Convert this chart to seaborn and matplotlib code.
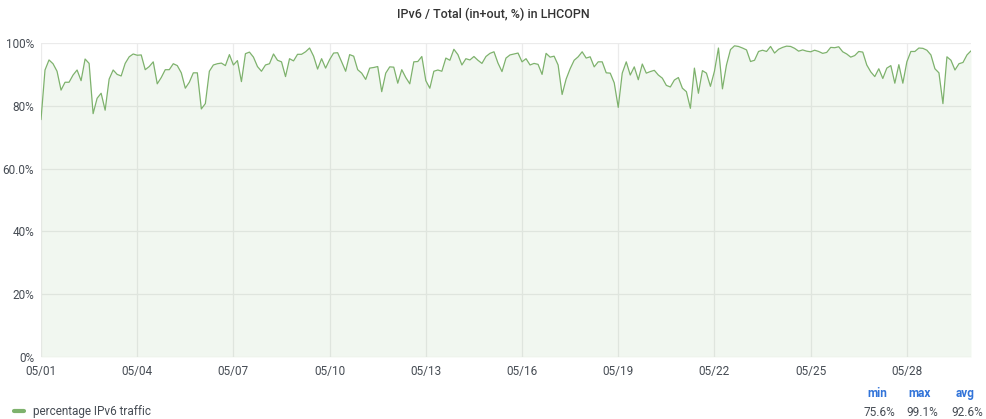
import numpy as np
import pandas as pd
import seaborn as sns
import matplotlib.pyplot as plt
import matplotlib.dates as mdates

# IPv6 share of LHCOPN traffic, one sample every 3 hours starting 05/01 00:00
start_time = '2023-05-01 00:00'
step = '3h'
ipv6_pct = [
    75.6, 91.4, 94.6, 93.4, 91.0, 85.0, 87.5, 87.5, 89.8, 91.4,
    88.0, 94.9, 93.5, 77.5, 82.4, 84.0, 78.6, 88.5, 91.4, 90.0,
    89.5, 93.5, 95.6, 96.5, 96.1, 96.2, 91.5, 92.5, 94.0, 87.0,
    89.0, 91.5, 91.5, 93.4, 92.8, 90.5, 85.6, 87.5, 90.5, 90.5,
    79.0, 80.7, 91.0, 93.0, 93.4, 93.6, 92.8, 96.3, 93.0, 94.4,
    87.7, 96.6, 97.1, 95.5, 92.5, 91.0, 93.0, 93.4, 96.5, 94.5,
    94.0, 89.3, 95.0, 94.3, 96.4, 96.4, 97.2, 98.4, 95.8, 91.7,
    95.0, 92.0, 94.7, 96.8, 96.9, 94.0, 91.0, 96.3, 95.8,
    91.5, 90.4, 88.4, 92.0, 92.2, 92.5, 84.5, 90.4, 92.4, 92.3,
    87.2, 91.5, 89.0, 87.0, 94.0, 94.1, 95.7, 88.0, 85.6, 91.0,
    91.4, 91.0, 95.2, 94.5, 98.0, 96.3, 93.0, 95.0, 94.6, 95.7,
    94.5, 93.5, 95.7, 96.7, 97.2, 93.6, 90.9, 95.2, 96.2,
    96.5, 96.8, 94.0, 95.0, 93.0, 93.5, 93.2, 90.0, 96.7, 95.5,
    95.8, 93.0, 83.6, 88.5, 91.8, 94.5, 95.6, 97.2, 95.2, 95.6,
    92.4, 94.0, 94.0, 90.5, 90.4, 87.3, 79.5, 90.4, 94.0, 89.8,
    92.4, 88.3, 93.3, 90.4, 90.9, 91.3, 89.8, 88.8, 86.5,
    86.0, 88.2, 89.0, 85.6, 84.5, 79.2, 92.0, 84.0, 91.2, 90.4,
    86.2, 91.0, 98.4, 85.4, 93.0, 97.9, 99.1, 98.9, 98.4, 97.8,
    94.1, 94.5, 97.3, 97.7, 97.3, 98.9, 96.8, 98.0, 98.6, 99.0,
    98.9, 98.3, 97.4, 97.8, 97.4, 97.2, 97.7, 97.3, 96.7,
    97.0, 98.6, 98.5, 98.8, 97.2, 96.5, 95.5, 96.0, 97.3, 97.1,
    93.0, 90.8, 89.3, 91.8, 88.7, 92.0, 92.8, 87.2, 93.1, 87.2,
    94.0, 97.3, 97.3, 98.4, 98.3, 97.7, 96.2, 91.8, 90.5, 80.7,
    95.6, 94.5, 91.4, 93.4, 93.8, 96.2, 97.5,
]
series_name = 'percentage IPv6 traffic'
y_ticks = [0, 20, 40, 60, 80, 100]
y_tick_labels = ['0%', '20%', '40%', '60.0%', '80%', '100%']
stat_names = ['min', 'max', 'avg']
stat_values = ['75.6%', '99.1%', '92.6%']

green = '#7eb26d'
grid_col = '#ebebeb'
text_col = '#464c54'

df = pd.DataFrame({
    'time': pd.date_range(start_time, periods=len(ipv6_pct), freq=step),
    'pct': ipv6_pct,
})

sns.set_style('white')
plt.rcParams['font.family'] = ['Roboto', 'DejaVu Sans']

W, H = 986, 419
fig = plt.figure(figsize=(W / 100, H / 100), dpi=100)
ax = fig.add_axes([41 / W, 1 - 357 / H, 930 / W, 314 / H])

sns.lineplot(data=df, x='time', y='pct', ax=ax, color=green, linewidth=0.9)
ax.fill_between(df['time'], df['pct'], 0, color=green, alpha=0.1, linewidth=0)

ax.set_ylim(0, 100)
ax.set_xlim(df['time'].iloc[0], df['time'].iloc[-1])
ax.set_yticks(y_ticks)
ax.set_yticklabels(y_tick_labels)
ax.xaxis.set_major_locator(mdates.DayLocator(bymonthday=range(1, 32, 3)))
ax.xaxis.set_major_formatter(mdates.DateFormatter('%m/%d'))
ax.grid(True, color=grid_col, linewidth=0.9)
ax.set_axisbelow(True)
for s in ax.spines.values():
    s.set_visible(False)
ax.tick_params(axis='y', length=0, labelsize=8.5, colors=text_col, pad=5)
ax.tick_params(axis='x', length=0, labelsize=8.5, colors=text_col, pad=6)
ax.set_xlabel('')
ax.set_ylabel('')

fig.text(493 / W, 1 - 14 / H, 'IPv6 / Total (in+out, %) in LHCOPN', ha='center', va='center',
         fontsize=9, fontweight='medium', color='#333333')

# legend table
fig.add_artist(plt.Line2D([14 / W, 24 / W], [1 - 411 / H, 1 - 411 / H], color=green, linewidth=3))
fig.text(33 / W, 1 - 411 / H, series_name, ha='left', va='center', fontsize=8.5, color=text_col)
for name, val, cx in zip(stat_names, stat_values, [877, 920, 965]):
    fig.text(cx / W, 1 - 393 / H, name, ha='center', va='center', fontsize=8.5,
             fontweight='bold', color='#3274d9')
    fig.text((cx + 2) / W, 1 - 412 / H, val, ha='center', va='center', fontsize=8.5, color=text_col)

plt.savefig('out.png', dpi=100)
